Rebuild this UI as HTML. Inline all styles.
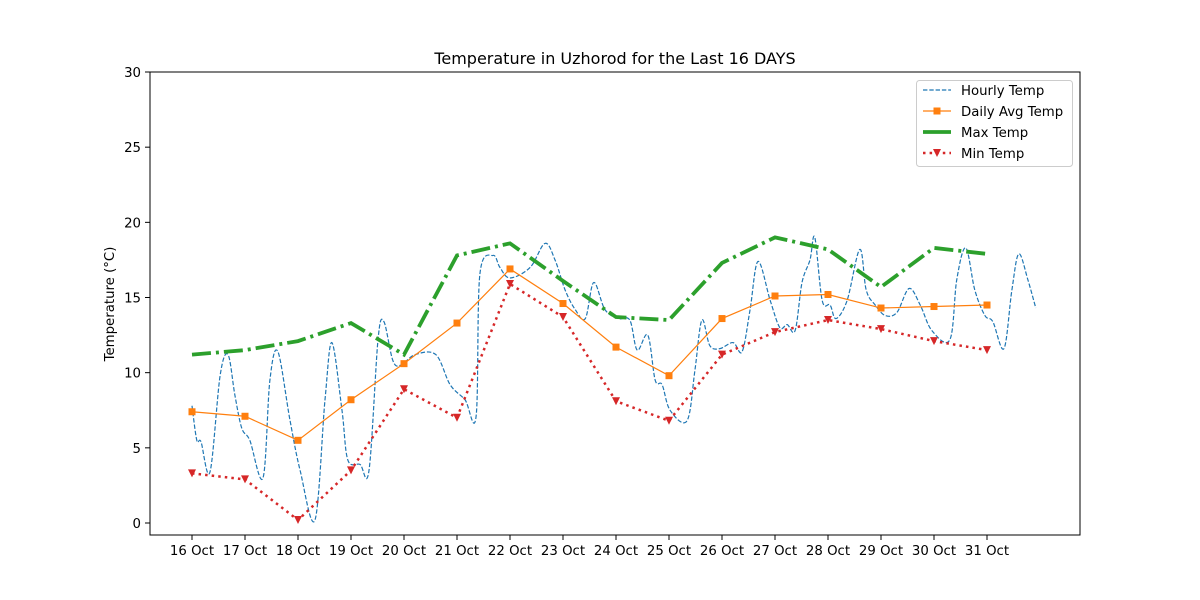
<!DOCTYPE html>
<html><head><meta charset="utf-8"><style>
body{margin:0;background:#fff}
svg{display:block;font-family:"DejaVu Sans","Liberation Sans",sans-serif}
</style></head><body>
<svg id="chart" width="1200" height="600" viewBox="0 0 1200 600"></svg>
<script>
const days=["16 Oct","17 Oct","18 Oct","19 Oct","20 Oct","21 Oct","22 Oct","23 Oct","24 Oct","25 Oct","26 Oct","27 Oct","28 Oct","29 Oct","30 Oct","31 Oct"];
const avgTemp=[7.4,7.1,5.5,8.2,10.6,13.3,16.9,14.6,11.7,9.8,13.6,15.1,15.2,14.3,14.4,14.5];
const maxTemp=[11.2,11.5,12.1,13.3,11.2,17.8,18.6,16.1,13.7,13.5,17.3,19.0,18.2,15.7,18.3,17.9];
const minTemp=[3.3,2.9,0.2,3.5,8.9,7.0,15.9,13.7,8.1,6.8,11.2,12.7,13.5,12.9,12.1,11.5];
const hourlyT=[0,.09,.17,.34,.53,.68,.81,.94,1.09,1.34,1.47,1.62,1.85,2.04,2.32,2.51,2.64,2.83,2.94,3.17,3.34,3.51,3.62,3.79,3.94,4.21,4.60,4.87,5.15,5.36,5.43,5.68,5.81,6.0,6.38,6.66,6.85,7.04,7.23,7.42,7.58,7.79,8.04,8.26,8.40,8.60,8.74,8.87,9.02,9.34,9.49,9.62,9.77,9.96,10.21,10.38,10.53,10.68,10.91,11.09,11.23,11.38,11.51,11.66,11.75,11.89,12.04,12.15,12.36,12.60,12.72,12.89,13.08,13.30,13.53,13.74,13.96,14.30,14.43,14.60,14.77,14.96,15.11,15.32,15.47,15.60,15.77,15.92];
const hourlyV=[7.8,5.5,5.4,3.4,9.8,11.2,8.5,6.3,5.5,3.0,9.5,11.4,6.8,3.5,0.2,8.2,12.0,7.5,4.2,3.9,3.5,12.2,13.4,10.8,10.5,11.2,11.2,9.2,8.2,7.1,16.5,17.8,17.0,16.3,17.0,18.6,17.5,15.5,14.2,13.6,16.0,14.2,13.6,13.5,11.5,12.5,9.5,9.2,7.5,6.8,10.2,13.5,11.8,11.6,12.0,11.4,14.2,17.4,14.8,13.0,13.2,12.8,16.0,17.5,19.0,14.8,14.5,13.6,14.8,18.2,15.5,14.5,13.8,14.0,15.6,14.5,12.8,12.2,16.2,18.3,15.5,13.8,13.4,11.6,15.5,17.9,16.2,14.3];
const yTicks=[0,5,10,15,20,25,30];

const svg=document.getElementById('chart');
const NS='http://www.w3.org/2000/svg';
const L=150,R=1080,T=72,B=535;
const xs=d=>192+53*d;
const ys=v=>523-15.033*v;
function mk(tag,attrs,parent){const e=document.createElementNS(NS,tag);for(const k in attrs)e.setAttribute(k,attrs[k]);(parent||svg).appendChild(e);return e;}

let t=mk('text',{x:615,y:64,'text-anchor':'middle','font-size':16,fill:'#000'});t.textContent='Temperature in Uzhorod for the Last 16 DAYS';



yTicks.forEach(v=>{
 const y=ys(v);
 const l=mk('line',{x1:L-5,x2:L,y1:y,y2:y,stroke:'#000','stroke-width':1});
 
 
 const tx=mk('text',{x:L-9,y:y+5,'text-anchor':'end','font-size':13.3});tx.textContent=v;
 
 
});
days.forEach((d,i)=>{
 const x=xs(i);
 const l=mk('line',{x1:x,x2:x,y1:B,y2:B+5,stroke:'#000','stroke-width':1});
 
 
 const tx=mk('text',{x:x,y:B+20,'text-anchor':'middle','font-size':13.3});tx.textContent=d;
 
 
});
t=mk('text',{x:0,y:0,transform:'translate(114,304) rotate(-90)','text-anchor':'middle','font-size':13.3});t.textContent='Temperature (°C)';



// hourly smooth
let pts=hourlyT.map((d,i)=>[xs(d),ys(hourlyV[i])]);
let dstr='M'+pts[0][0]+','+pts[0][1];
for(let i=0;i<pts.length-1;i++){
 const p0=pts[Math.max(0,i-1)],p1=pts[i],p2=pts[i+1],p3=pts[Math.min(pts.length-1,i+2)];
 const c1=[p1[0]+(p2[0]-p0[0])/6,p1[1]+(p2[1]-p0[1])/6],c2=[p2[0]-(p3[0]-p1[0])/6,p2[1]-(p3[1]-p1[1])/6];
 dstr+=`C${c1[0].toFixed(1)},${c1[1].toFixed(1)} ${c2[0].toFixed(1)},${c2[1].toFixed(1)} ${p2[0].toFixed(1)},${p2[1].toFixed(1)}`;
}
let p=mk('path',{d:dstr,fill:'none',stroke:'#1f77b4','stroke-width':1.2,'stroke-dasharray':'4.4,1.9'});



function poly(arr,attrs,name){
 const e=mk('polyline',Object.assign({points:arr.map((v,i)=>xs(i)+','+ys(v)).join(' '),fill:'none'},attrs));
 
 
}
poly(avgTemp,{stroke:'#ff7f0e','stroke-width':1.2},'daily-avg-line');
avgTemp.forEach((v,i)=>{const r=mk('rect',{x:xs(i)-3.5,y:ys(v)-3.5,width:7,height:7,fill:'#ff7f0e'});
 
 });
poly(maxTemp,{stroke:'#2ca02c','stroke-width':3.8,'stroke-dasharray':'19,5,3,5'},'max-temp-line');
poly(minTemp,{stroke:'#d62728','stroke-width':2.5,'stroke-dasharray':'2.5,4.1'},'min-temp-line');
minTemp.forEach((v,i)=>{const x=xs(i),y=ys(v);const r=mk('polygon',{points:`${x-4},${y-4} ${x+4},${y-4} ${x},${y+4}`,fill:'#d62728'});
 
 });

let f=mk('rect',{x:L,y:T,width:R-L,height:B-T,fill:'none',stroke:'#000','stroke-width':1});



// legend
const lg=mk('g',{});


mk('rect',{x:916.5,y:80.5,width:156,height:86,rx:3,fill:'#fff',stroke:'#ccc','stroke-width':1},lg);
const ent=[["Hourly Temp",{stroke:'#1f77b4','stroke-width':1.2,'stroke-dasharray':'4.4,1.9'},null],
 ["Daily Avg Temp",{stroke:'#ff7f0e','stroke-width':1.2},'sq'],
 ["Max Temp",{stroke:'#2ca02c','stroke-width':3.8},null],
 ["Min Temp",{stroke:'#d62728','stroke-width':2.5,'stroke-dasharray':'2.5,4.1'},'tri']];
ent.forEach((e,i)=>{
 const y=90+21*i;
 const g=mk('g',{},lg);
 
 
 mk('line',Object.assign({x1:923,x2:951,y1:y,y2:y},e[1]),g);
 if(e[2]=='sq')mk('rect',{x:933.5,y:y-3.5,width:7,height:7,fill:'#ff7f0e'},g);
 if(e[2]=='tri')mk('polygon',{points:`933,${y-4} 941,${y-4} 937,${y+4}`,fill:'#d62728'},g);
 const tx=mk('text',{x:961,y:y+5,'font-size':13.3},g);tx.textContent=e[0];
});
</script>
</body></html>
